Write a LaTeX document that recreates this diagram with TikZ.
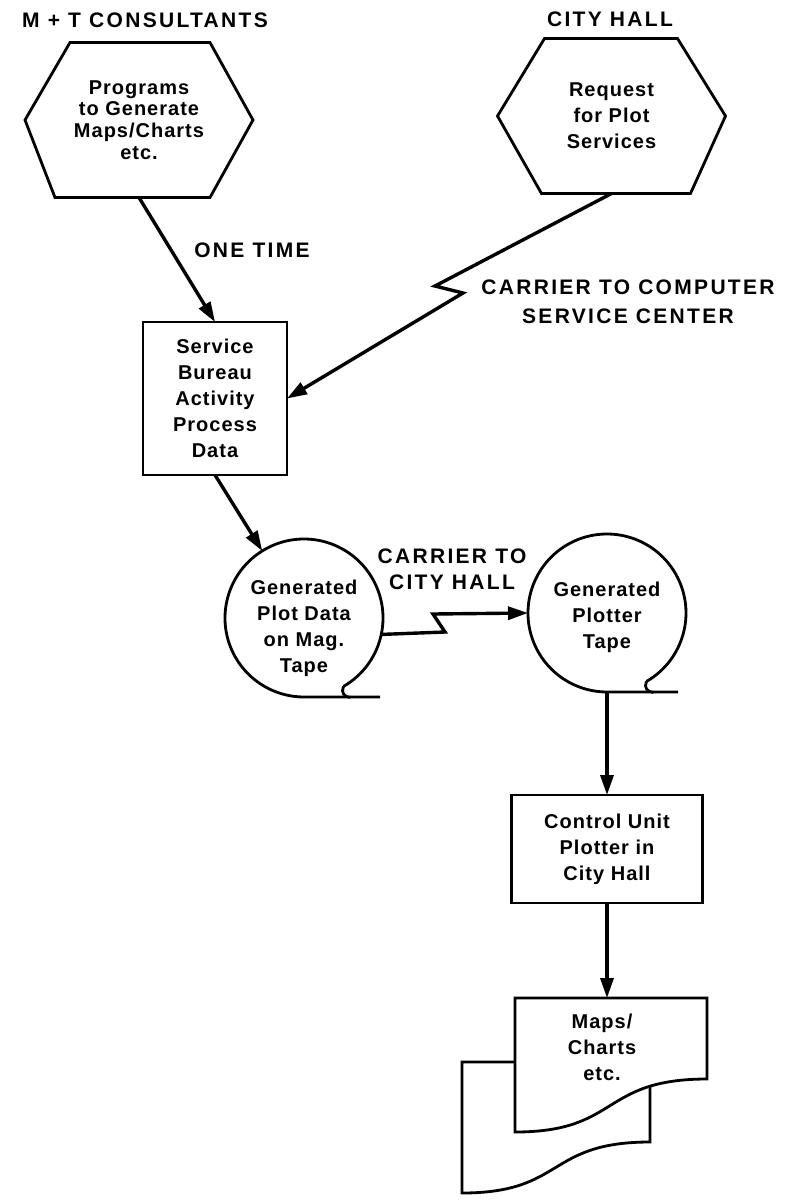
\documentclass[tikz,border=0pt]{standalone}
\usepackage{fontspec}
\setmainfont{Liberation Sans}[LetterSpace=5]
\newfontfamily\lblfont{Liberation Sans}[LetterSpace=11]
\usetikzlibrary{arrows.meta,calc}
\begin{document}
\begin{tikzpicture}[x=0.5pt,y=-0.5pt,
  outl/.style={line width=1.4pt, line join=miter},
  conn/.style={line width=1.7pt, -{Triangle[length=10pt,width=6.5pt]}},
  lbl/.style={font=\fontsize{10.5}{14.5}\lblfont\bfseries, align=center, inner sep=0pt},
  txt/.style={font=\fontsize{10}{13}\selectfont\bfseries, align=center, inner sep=0pt},
  hexnode/.style={txt, minimum width=114pt, minimum height=77.5pt, outer sep=0pt},
  boxnode/.style={txt, draw, line width=1.4pt, outer sep=0pt},
  tapenode/.style={circle, minimum size=79pt, inner sep=0pt, outer sep=0pt},
  docnode/.style={inner sep=0pt, outer sep=0pt, minimum width=96pt, minimum height=67pt}
]
\useasboundingbox (0,0) rectangle (784,1200);

% labels
\node[lbl] (lmt) at (145,20) {M + T CONSULTANTS};
\node[lbl] (lch) at (610,19) {CITY HALL};
\node[lbl] (lone) at (252,250) {ONE TIME};
\node[lbl] (lcc) at (628,302) {CARRIER TO COMPUTER\\SERVICE CENTER};
\node[lbl, font=\fontsize{10.5}{13}\lblfont\bfseries] (lch2) at (452,569) {CARRIER TO\\CITY HALL};

% hexagon 1
\node[hexnode, font=\fontsize{10}{10.8}\selectfont\bfseries] (prog) at (139,120) {Programs\\to Generate\\Maps/Charts\\etc.};
\draw[outl] (prog.west) -- ($(prog.north west)+(45,0)$) -- ($(prog.north east)+(-43,0)$) -- (prog.east) -- ($(prog.south east)+(-43,0)$) -- ($(prog.south west)+(30,0)$) -- cycle;

% hexagon 2
\node[hexnode] (req) at (611.5,116) {Request\\for Plot\\Services};
\draw[outl] (req.west) -- ($(req.north west)+(47,0)$) -- ($(req.north east)+(-48,0)$) -- (req.east) -- ($(req.south east)+(-35,0)$) -- ($(req.south west)+(44,0)$) -- cycle;

% service bureau box
\node[boxnode, minimum width=72pt, minimum height=76.5pt] (svc) at (215,398.5) {Service\\Bureau\\Activity\\Process\\Data};

% tape 1
\node[tapenode] (tape1) at (304,618) {};
\node[txt] (tape1t) at (304,628) {Generated\\Plot Data\\on Mag.\\Tape};
\draw[outl] (tape1.-60) arc[start angle=-60, end angle=270, radius=39.5pt] -- ++(76,0);
\draw[outl] (tape1.-60) .. controls +(-3,6) and +(-6,0) .. ++(7,11);

% tape 2
\node[tapenode] (tape2) at (607,613) {};
\node[txt] (tape2t) at (607,617) {Generated\\Plotter\\Tape};
\draw[outl] (tape2.-60) arc[start angle=-60, end angle=270, radius=39.5pt] -- ++(71,0);
\draw[outl] (tape2.-60) .. controls +(-3,6) and +(-6,0) .. ++(7,11);

% control unit box
\node[boxnode, minimum width=95.5pt, minimum height=54pt] (ctrl) at (607,849) {Control Unit\\Plotter in\\City Hall};

% documents
\node[docnode] (doc) at (611,1065) {};
\draw[outl] (515,1062) -- (462,1062) -- (462,1193) .. controls (565,1193) and (546,1142) .. (650,1142) -- (650,1087);
\draw[outl] (doc.north west) -- (doc.north east) -- (707,1079) .. controls (600,1079) and (620,1132) .. (doc.south west) -- cycle;
\node[txt] (doct) at (602,1047) {Maps/\\Charts\\etc.};

% connectors
\coordinate (z1) at (435,286);
\coordinate (z2) at (463,293);
\coordinate (z3) at (445,632);
\coordinate (z4) at (433,614);
\draw[conn] (prog.south) -- (svc.north);
\draw[conn] (req.south) -- (z1) -- (z2) -- (svc.east);
\draw[conn] (svc.south) -- (tape1);
\draw[conn] (tape1.-12) -- (z3) -- (z4) -- (tape2.west);
\draw[conn] (tape2.south) -- (ctrl.north);
\draw[conn] (ctrl.south) -- (ctrl.south |- doc.north);
\end{tikzpicture}
\end{document}
